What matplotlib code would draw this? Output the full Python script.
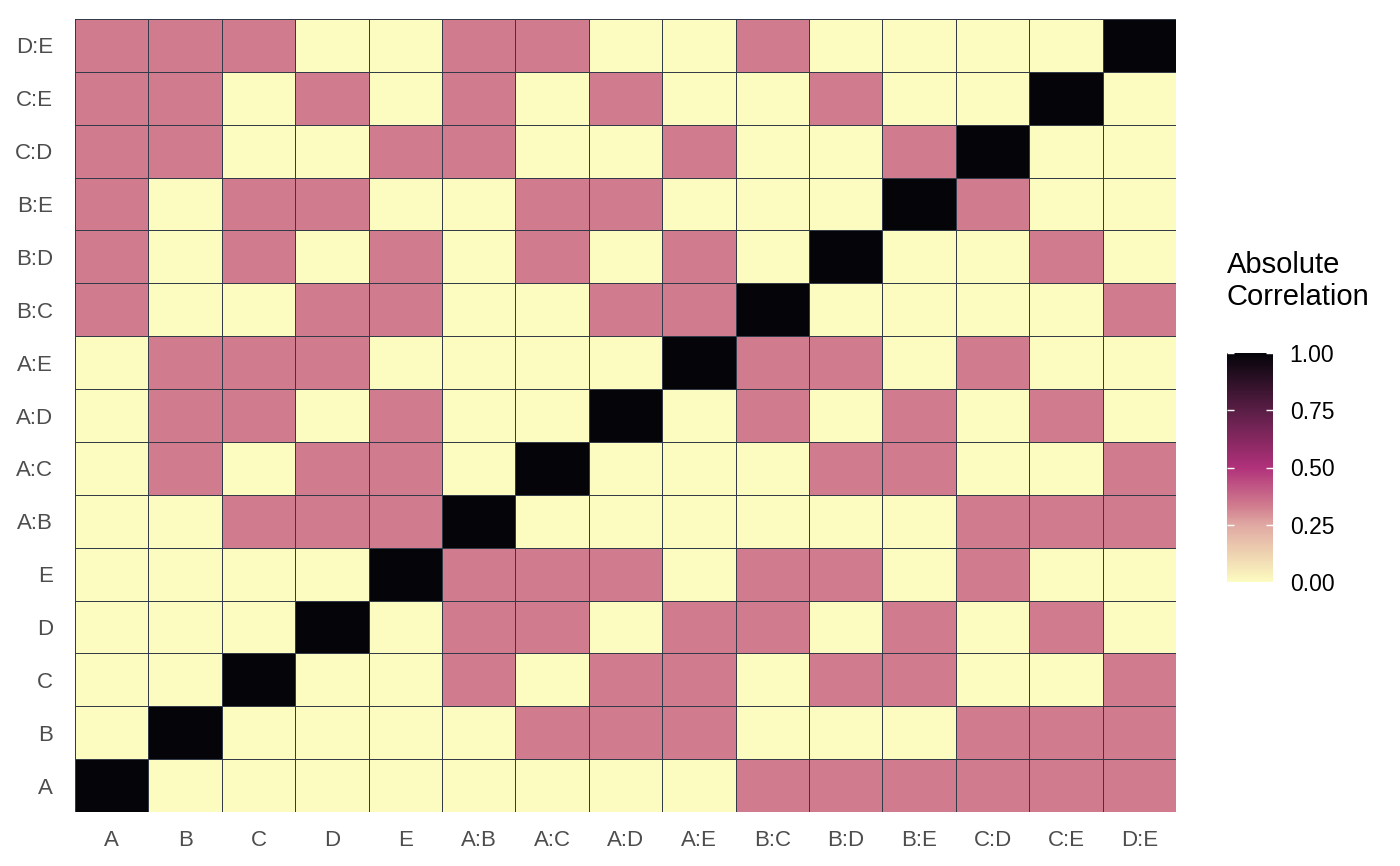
import numpy as np
import matplotlib
matplotlib.use("Agg")
import matplotlib.pyplot as plt
from matplotlib.colors import LinearSegmentedColormap

plt.rcParams['font.family'] = ['Liberation Sans', 'DejaVu Sans']

# term names (bottom-to-top / left-to-right)
terms = ['A', 'B', 'C', 'D', 'E', 'A:B', 'A:C', 'A:D', 'A:E',
         'B:C', 'B:D', 'B:E', 'C:D', 'C:E', 'D:E']

# absolute correlation pattern: K = 1, P = 1/3, Y = 0 ; rows listed bottom (A) to top (D:E)
pattern = [
    "KYYYYYYYYPPPPPP",  # A
    "YKYYYYPPPYYYPPP",  # B
    "YYKYYPYPPYPPYYP",  # C
    "YYYKYPPYPPYPYPY",  # D
    "YYYYKPPPYPPYPYY",  # E
    "YYPPPKYYYYYYPPP",  # A:B
    "YPYPPYKYYYPPYYP",  # A:C
    "YPPYPYYKYPYPYPY",  # A:D
    "YPPPYYYYKPPYPYY",  # A:E
    "PYYPPYYPPKYYYYP",  # B:C
    "PYPYPYPYPYKYYPY",  # B:D
    "PYPPYYPPYYYKPYY",  # B:E
    "PPYYPPYYPYYPKYY",  # C:D
    "PPYPYPYPYYPYYKY",  # C:E
    "PPPYYPPYYPYYYYK",  # D:E
]
level = {'K': 1.0, 'P': 1 / 3, 'Y': 0.0}
corr = np.array([[level[c] for c in row] for row in pattern])

cbar_ticks = [0.0, 0.25, 0.5, 0.75, 1.0]

cmap = LinearSegmentedColormap.from_list(
    'corr', [(0.0, '#FCFBC0'), (0.25, '#E0A8A2'), (1 / 3, '#D07B8E'),
             (0.5, '#B0317A'), (0.75, '#5A1E46'), (1.0, '#040409')])

W, H = 1400, 866
fig = plt.figure(figsize=(W / 100, H / 100), dpi=100)
ax = fig.add_axes([75 / W, (H - 812) / H, (1176 - 75) / W, (812 - 19) / H])

n = len(terms)
mesh = ax.pcolormesh(np.arange(n + 1), np.arange(n + 1), corr, cmap=cmap,
                     vmin=0, vmax=1, edgecolors='#333B48', linewidth=0.6)
ax.set_xlim(0, n)
ax.set_ylim(0, n)
ax.set_xticks(np.arange(n) + 0.5)
ax.set_yticks(np.arange(n) + 0.5)
ax.set_xticklabels(terms)
ax.set_yticklabels(terms)
ax.tick_params(length=0, labelsize=16, labelcolor='#4D4D4D')
ax.tick_params(axis='x', pad=13)
ax.tick_params(axis='y', pad=16)
for s in ax.spines.values():
    s.set_visible(False)

# colourbar legend
cax = fig.add_axes([1227 / W, (H - 582) / H, 46 / W, 229 / H])
cb = fig.colorbar(mesh, cax=cax, ticks=cbar_ticks)
cb.outline.set_visible(False)
cb.ax.set_yticklabels(['%.2f' % t for t in cbar_ticks])
cax.tick_params(axis='y', direction='in', length=5, width=1, color='white',
                left=True, right=True, labelleft=False, labelright=True,
                labelsize=16.5, labelcolor='black', pad=12)

fig.text(1227 / W, 1 - 251 / H, 'Absolute\nCorrelation', ha='left', va='top',
         fontsize=21, linespacing=1.2, color='black')

fig.savefig('out.png', dpi=100)
